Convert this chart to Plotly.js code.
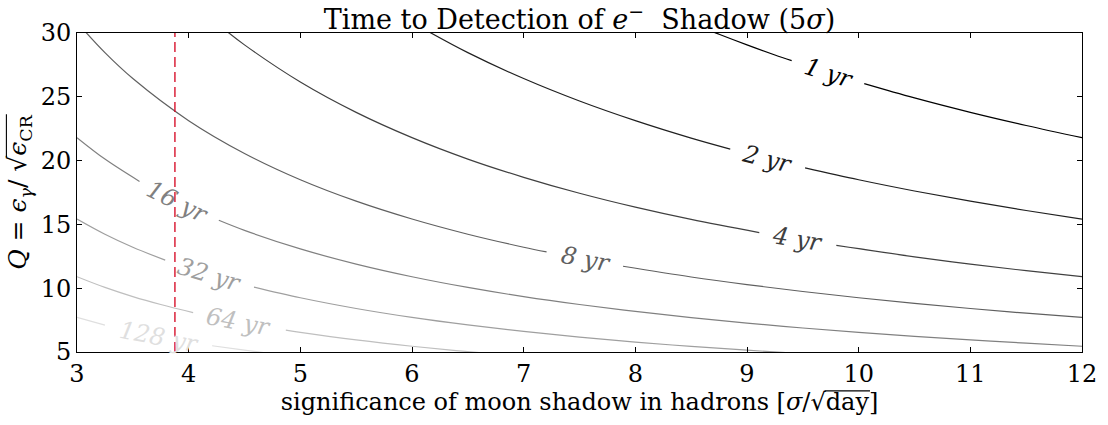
<!DOCTYPE html>
<html>
<head>
<meta charset="utf-8">
<script src="https://cdn.plot.ly/plotly-3.0.1.min.js"></script>
<style>html,body{margin:0;padding:0;background:#fff;}#chart{width:1108px;height:425px;}</style>
</head>
<body>
<div id="chart"></div>
<script>
// Contour levels (years) and their grey shades
const levelLabels = ["1 yr", "2 yr", "4 yr", "8 yr", "16 yr", "32 yr", "64 yr", "128 yr"];
const levelColors = ["#000000", "#202020", "#404040", "#606060", "#808080", "#9f9f9f", "#bfbfbf", "#dfdfdf"];

// Contour lines (x = significance, y = Q); null = label gap
const s1 = [8.5, 8.75, 9.0, 9.25, 9.40, null, 10.05, 10.5, 11.0, 11.5, 12.0];
const q1 = [30.78, 29.90, 29.07, 28.28, 27.83, null, 26.03, 24.91, 23.78, 22.75, 21.80];

const s2 = [6.0, 6.5, 7.0, 7.5, 8.0, 8.5, 8.85, null, 9.52, 10.0, 10.5, 11.0, 11.5, 12.0];
const q2 = [30.83, 28.46, 26.43, 24.67, 23.13, 21.76, 20.90, null, 19.43, 18.50, 17.62, 16.82, 16.09, 15.42];

const s4 = [4.25, 4.5, 5.0, 5.5, 6.0, 6.5, 7.0, 7.5, 8.0, 8.5, 9.11, null, 9.80, 10.5, 11.0, 11.5, 12.0];
const q4 = [30.78, 29.07, 26.16, 23.78, 21.80, 20.12, 18.69, 17.44, 16.35, 15.39, 14.36, null, 13.35, 12.46, 11.89, 11.37, 10.90];

const s8 = [3.0, 3.25, 3.5, 4.0, 4.5, 5.0, 5.5, 6.0, 6.5, 7.0, 7.205, null, 7.89, 8.5, 9.0, 9.5, 10.0, 10.5, 11.0, 11.5, 12.0];
const q8 = [30.83, 28.46, 26.43, 23.13, 20.56, 18.50, 16.82, 15.42, 14.23, 13.21, 12.84, null, 11.72, 10.88, 10.28, 9.74, 9.25, 8.81, 8.41, 8.04, 7.71];

const s16 = [3.0, 3.25, 3.56, null, 4.27, 4.5, 5.0, 5.5, 6.0, 6.5, 7.0, 7.5, 8.0, 8.5, 9.0, 9.5, 10.0, 10.5, 11.0, 11.5, 12.0];
const q16 = [21.80, 20.12, 18.37, null, 15.32, 14.53, 13.08, 11.89, 10.90, 10.06, 9.34, 8.72, 8.18, 7.69, 7.27, 6.88, 6.54, 6.23, 5.95, 5.69, 5.45];

const s32 = [3.0, 3.25, 3.5, 3.79, null, 4.585, 5.0, 5.5, 6.0, 6.5, 7.0, 7.5, 8.0, 8.5, 9.0, 9.5];
const q32 = [15.42, 14.23, 13.21, 12.20, null, 10.09, 9.25, 8.41, 7.71, 7.12, 6.61, 6.17, 5.78, 5.44, 5.14, 4.87];

const s64 = [3.0, 3.25, 3.5, 3.75, 4.04, null, 4.87, 5.0, 5.5, 6.0, 6.5, 7.0];
const q64 = [10.90, 10.06, 9.34, 8.72, 8.09, null, 6.71, 6.54, 5.95, 5.45, 5.03, 4.67];

const s128 = [3.0, 3.25, null, 4.21, 4.5, 4.75];
const q128 = [7.71, 7.11, null, 5.49, 5.14, 4.87];

// Inline label positions and angles
const labelS = [9.73, 9.18, 9.45, 7.55, 3.90, 4.19, 4.45, 3.73];
const labelQ = [26.89, 20.15, 13.84, 12.25, 16.77, 11.04, 7.35, 6.20];
const labelAngle = [17.5, 14.1, 9.5, 10.5, 26.2, 16.7, 10.7, 10.8];

// Dashed reference line
const refS = [3.877, 3.877];
const refQ = [5, 30];

const xTicks = [3, 4, 5, 6, 7, 8, 9, 10, 11, 12];
const yTicks = [5, 10, 15, 20, 25, 30];

const lineS = [s1, s2, s4, s8, s16, s32, s64, s128];
const lineQ = [q1, q2, q4, q8, q16, q32, q64, q128];

const traces = lineS.map((xs, i) => ({
  type: 'scatter', mode: 'lines', x: xs, y: lineQ[i],
  line: {color: levelColors[i], width: 1.2, shape: 'spline', smoothing: 1},
  connectgaps: false, hoverinfo: 'skip', showlegend: false
}));
traces.push({
  type: 'scatter', mode: 'lines', x: refS, y: refQ,
  line: {color: '#d4001c', width: 1.3, dash: '10px,5px'},
  hoverinfo: 'skip', showlegend: false
});

const font = "'DejaVu Serif', 'Liberation Serif', serif";

const annotations = levelLabels.map((t, i) => ({
  x: labelS[i], y: labelQ[i], xref: 'x', yref: 'y',
  text: '<i>' + t + '</i>', showarrow: false, textangle: labelAngle[i],
  font: {family: font, size: 24, color: levelColors[i]},
  xanchor: 'center', yanchor: 'middle'
}));

const layout = {
  width: 1108, height: 425,
  margin: {l: 77, r: 26, t: 33, b: 73},
  paper_bgcolor: '#fff', plot_bgcolor: '#fff',
  font: {family: font, size: 24, color: '#000'},
  title: {text: 'Time to Detection of <i>e</i><sup>−</sup>  Shadow (5<i>σ</i>)', x: 0.5, xref: 'paper', y: 1, yref: 'paper', yanchor: 'bottom', pad: {b: 4}, font: {family: font, size: 27, color: '#000'}},
  xaxis: {
    range: [3, 12], tickvals: xTicks, ticktext: xTicks.map(String),
    ticks: 'inside', ticklen: 5, tickwidth: 1, tickcolor: '#000',
    showline: true, linecolor: '#000', linewidth: 1, mirror: 'ticks',
    showgrid: false, zeroline: false,
    tickfont: {family: font, size: 24, color: '#000'},
    title: {text: 'significance of moon shadow in hadrons [<i>σ</i>/√day]', font: {family: font, size: 24, color: '#000'}, standoff: 6}
  },
  yaxis: {
    range: [5, 30], tickvals: yTicks, ticktext: yTicks.map(String),
    ticks: 'inside', ticklen: 5, tickwidth: 1, tickcolor: '#000',
    showline: true, linecolor: '#000', linewidth: 1, mirror: 'ticks',
    showgrid: false, zeroline: false,
    tickfont: {family: font, size: 24, color: '#000'},
    title: {text: '<i>Q</i> = <i>ϵ</i><sub><i>γ</i></sub>/ √<i>ϵ</i><sub>CR</sub>', font: {family: font, size: 25, color: '#000'}, standoff: 6}
  },
  annotations: annotations
};

// draw the square-root overline (vinculum) above the radicand of a title text
function addVinculum(textEl, size) {
  if (!textEl) return;
  const str = textEl.textContent;
  const iR = str.indexOf('√');
  if (iR < 0) return;
  let iEnd = str.length - 1;
  if (str[iEnd] === ']') iEnd -= 1;
  const rb = textEl.getExtentOfChar(iR);
  const eb = textEl.getExtentOfChar(iEnd);
  const base = textEl.getStartPositionOfChar(iR).y;
  const y = base - 0.80 * size;
  const ns = 'http://www.w3.org/2000/svg';
  const ln = document.createElementNS(ns, 'line');
  ln.setAttribute('x1', rb.x + rb.width - 1.2);
  ln.setAttribute('x2', eb.x + eb.width + 1);
  ln.setAttribute('y1', y);
  ln.setAttribute('y2', y);
  ln.setAttribute('stroke', '#000');
  ln.setAttribute('stroke-width', 1.1);
  const tr = textEl.getAttribute('transform');
  if (tr) ln.setAttribute('transform', tr);
  textEl.parentNode.appendChild(ln);
}

Plotly.newPlot('chart', traces, layout, {staticPlot: true, displayModeBar: false}).then(gd => {
  addVinculum(gd.querySelector('.xtitle'), 24);
  addVinculum(gd.querySelector('.ytitle'), 25);
});
</script>
</body>
</html>
